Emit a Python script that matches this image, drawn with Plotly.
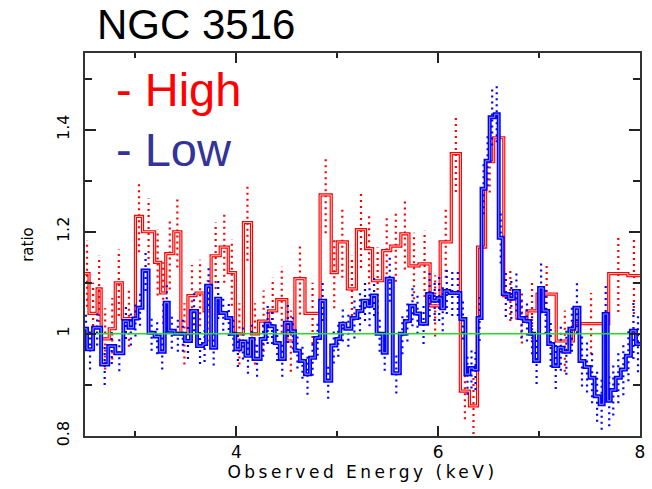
import plotly.graph_objects as go

# ---- data (energy bin edges in keV, ratio values, 1-sigma errors) ----
edges_high = [2.50, 2.54, 2.62, 2.66, 2.74, 2.80, 2.87, 3.00, 3.07, 3.19, 3.25, 3.30, 3.38, 3.45,
              3.52, 3.60, 3.68, 3.75, 3.84, 3.92, 3.99, 4.07, 4.15, 4.22, 4.32, 4.40, 4.50, 4.58,
              4.68, 4.83, 4.94, 5.00, 5.10, 5.19, 5.28, 5.35, 5.45, 5.53, 5.63, 5.71, 5.81, 5.92,
              6.02, 6.13, 6.22, 6.31, 6.39, 6.47, 6.55, 6.65, 6.78, 6.88, 6.98, 7.17, 7.34, 7.69,
              7.88, 8.00]
ratio_high = [1.118, 1.04, 1.088, 0.99, 1.01, 1.10, 1.03, 1.23, 1.20, 1.14,
              1.08, 1.157, 1.20, 1.0, 1.075, 1.08, 1.045, 1.153, 1.17, 1.12,
              1.0, 1.218, 1.0, 1.025, 1.045, 1.067, 0.986, 1.108, 1.04, 1.272,
              1.12, 1.18, 1.088, 1.204, 1.167, 1.104, 1.163, 1.172, 1.196, 1.133,
              1.137, 1.055, 1.18, 1.353, 0.888, 0.859, 1.17, 1.337, 1.384, 1.075,
              1.031, 1.045, 1.078, 0.986, 1.02, 1.118, 1.114]
err_high = [0.065, 0.06, 0.065, 0.06, 0.06, 0.065, 0.055, 0.07, 0.065, 0.065,
            0.06, 0.07, 0.07, 0.06, 0.06, 0.065, 0.06, 0.065, 0.07, 0.065,
            0.06, 0.075, 0.06, 0.06, 0.065, 0.065, 0.06, 0.07, 0.06, 0.075,
            0.07, 0.07, 0.065, 0.075, 0.07, 0.065, 0.07, 0.07, 0.07, 0.065,
            0.065, 0.06, 0.07, 0.075, 0.055, 0.055, 0.06, 0.06, 0.05, 0.05,
            0.05, 0.055, 0.055, 0.06, 0.06, 0.075, 0.075]

edges_low = [2.50, 2.52, 2.58, 2.66, 2.73, 2.80, 2.88, 2.93, 2.98, 3.02,
             3.07, 3.13, 3.19, 3.24, 3.29, 3.33, 3.39, 3.45, 3.49, 3.55,
             3.61, 3.67, 3.70, 3.75, 3.80, 3.84, 3.90, 3.95, 3.99, 4.04,
             4.09, 4.14, 4.17, 4.24, 4.29, 4.33, 4.38, 4.43, 4.48, 4.54,
             4.58, 4.63, 4.68, 4.73, 4.78, 4.83, 4.88, 4.94, 4.99, 5.03,
             5.08, 5.14, 5.20, 5.25, 5.30, 5.34, 5.39, 5.45, 5.49, 5.55,
             5.62, 5.67, 5.72, 5.77, 5.82, 5.89, 5.94, 5.99, 6.03, 6.06,
             6.11, 6.17, 6.22, 6.27, 6.31, 6.35, 6.39, 6.43, 6.47, 6.51,
             6.56, 6.60, 6.64, 6.70, 6.75, 6.80, 6.85, 6.91, 6.95, 7.00,
             7.04, 7.09, 7.14, 7.19, 7.24, 7.30, 7.35, 7.40, 7.45, 7.50,
             7.55, 7.60, 7.64, 7.68, 7.71, 7.76, 7.81, 7.86, 7.91, 7.96,
             8.00]
ratio_low = [1.01, 0.97, 1.012, 0.94, 0.976, 0.962, 1.025, 1.012, 1.03, 1.051,
             1.124, 1.002, 0.995, 0.965, 1.061, 1.006, 1.0, 1.0, 0.986, 1.045,
             0.976, 0.98, 1.094, 0.973, 1.069, 1.041, 1.031, 1.0, 0.97, 0.985,
             0.957, 0.99, 0.951, 0.99, 1.02, 1.015, 0.982, 0.951, 1.022, 1.005,
             0.967, 0.947, 0.921, 0.953, 0.992, 1.065, 0.908, 0.977, 0.99, 1.02,
             1.01, 1.031, 1.045, 1.065, 1.055, 1.075, 1.0, 0.963, 1.108, 0.923,
             1.0, 1.025, 1.055, 1.04, 1.02, 1.078, 1.065, 1.07, 1.05, 1.084,
             1.08, 1.08, 1.029, 0.921, 0.933, 0.93, 1.031, 1.284, 1.339, 1.424,
             1.43, 1.188, 1.078, 1.069, 1.084, 1.031, 1.025, 1.0, 0.947, 1.09,
             1.045, 0.98, 0.937, 0.973, 0.965, 1.01, 1.051, 0.947, 0.935, 0.914,
             0.878, 0.862, 1.039, 0.869, 0.89, 0.914, 0.93, 0.957, 1.006, 0.98]
err_low = [0.035, 0.04, 0.035, 0.04, 0.035, 0.035, 0.035, 0.035, 0.035, 0.035,
           0.04, 0.035, 0.035, 0.035, 0.04, 0.035, 0.035, 0.035, 0.035, 0.04,
           0.035, 0.035, 0.04, 0.035, 0.04, 0.035, 0.035, 0.035, 0.035, 0.035,
           0.035, 0.035, 0.035, 0.035, 0.04, 0.035, 0.035, 0.035, 0.04, 0.035,
           0.035, 0.035, 0.04, 0.035, 0.035, 0.04, 0.035, 0.035, 0.035, 0.035,
           0.035, 0.04, 0.04, 0.04, 0.04, 0.04, 0.035, 0.035, 0.045, 0.04,
           0.04, 0.04, 0.04, 0.04, 0.04, 0.045, 0.04, 0.045, 0.045, 0.045,
           0.045, 0.045, 0.04, 0.04, 0.04, 0.04, 0.045, 0.05, 0.05, 0.055,
           0.055, 0.05, 0.045, 0.04, 0.04, 0.04, 0.04, 0.04, 0.045, 0.05,
           0.045, 0.045, 0.045, 0.045, 0.045, 0.045, 0.05, 0.05, 0.05, 0.05,
           0.05, 0.05, 0.055, 0.05, 0.05, 0.05, 0.05, 0.05, 0.055, 0.055]

x_range = [2.5, 8.0]
y_range = [0.8, 1.55]
x_ticks = [4, 6, 8]
x_minor = [3, 5, 7]
y_ticks = [0.8, 1.0, 1.2, 1.4]
y_ticklabels = ["0.8", "1", "1.2", "1.4"]
y_minor = [0.9, 1.1, 1.3, 1.5]

RED = "#ff0000"
BLUE = "#0000ff"


def step_xy(edges, vals):
    return list(edges), list(vals) + [vals[-1]]


def err_xy(edges, vals, errs):
    xs, ys = [], []
    for i, (v, e) in enumerate(zip(vals, errs)):
        c = 0.5 * (edges[i] + edges[i + 1])
        xs += [c, c, None]
        ys += [v - e, v + e, None]
    return xs, ys


fig = go.Figure()

# error bars (dotted)
ex, ey = err_xy(edges_high, ratio_high, err_high)
fig.add_trace(go.Scatter(x=ex, y=ey, mode="lines", line=dict(color=RED, width=2.2, dash="2px,4px"),
                         hoverinfo="skip", showlegend=False))
sx, sy = step_xy(edges_high, ratio_high)
fig.add_trace(go.Scatter(x=sx, y=sy, mode="lines", line=dict(color=RED, width=3.2, shape="hv"),
                         name="High", showlegend=False))
fig.add_trace(go.Scatter(x=sx, y=sy, mode="lines", line=dict(color="#ffc8c8", width=1, shape="hv"),
                         hoverinfo="skip", showlegend=False))

ex, ey = err_xy(edges_low, ratio_low, err_low)
fig.add_trace(go.Scatter(x=ex, y=ey, mode="lines", line=dict(color=BLUE, width=2.2, dash="2px,4px"),
                         hoverinfo="skip", showlegend=False))
sx, sy = step_xy(edges_low, ratio_low)
fig.add_trace(go.Scatter(x=sx, y=sy, mode="lines", line=dict(color=BLUE, width=4, shape="hv"),
                         name="Low", showlegend=False))
fig.add_trace(go.Scatter(x=sx, y=sy, mode="lines", line=dict(color="#9090ff", width=1, shape="hv"),
                         hoverinfo="skip", showlegend=False))

# unity line
fig.add_trace(go.Scatter(x=x_range, y=[1.0, 1.0], mode="lines", line=dict(color="#22dd22", width=1.5),
                         hoverinfo="skip", showlegend=False))

axis_common = dict(showline=True, linecolor="#333333", linewidth=2, mirror="ticks",
                   ticks="inside", tickcolor="#222222", tickwidth=2, showgrid=False, zeroline=False)

fig.update_xaxes(range=x_range, tickvals=x_ticks, ticklen=10,
                 minor=dict(tickvals=x_minor, ticklen=5, ticks="inside", tickcolor="#222222", tickwidth=2),
                 tickfont=dict(family="DejaVu Sans", size=17, color="black"),
                 title=dict(text="Observed Energy (keV)", standoff=4,
                            font=dict(family="DejaVu Sans", size=17, color="black")),
                 **axis_common)
fig.update_yaxes(range=y_range, tickvals=y_ticks, ticktext=y_ticklabels, ticklen=11, tickangle=-90,
                 ticklabelstandoff=8,
                 minor=dict(tickvals=y_minor, ticklen=7, ticks="inside", tickcolor="#222222", tickwidth=2),
                 tickfont=dict(family="DejaVu Sans", size=16, color="black"),
                 title=dict(text="ratio", standoff=16,
                            font=dict(family="DejaVu Sans", size=15, color="black")),
                 **axis_common)

fig.add_annotation(text="NGC 3516", xref="paper", yref="paper", x=0.018, y=1.075,
                   xanchor="left", yanchor="middle", showarrow=False,
                   font=dict(family="Liberation Sans", size=42, color="black"))
fig.add_annotation(text="- High", xref="paper", yref="paper", x=0.052, y=0.905,
                   xanchor="left", yanchor="middle", showarrow=False,
                   font=dict(family="Liberation Sans", size=47, color="#ff0000"))
fig.add_annotation(text="- Low", xref="paper", yref="paper", x=0.052, y=0.748,
                   xanchor="left", yanchor="middle", showarrow=False,
                   font=dict(family="Liberation Sans", size=47, color="#333399"))

fig.update_layout(width=652, height=489, margin=dict(l=85, r=7, t=53, b=53),
                  paper_bgcolor="white", plot_bgcolor="white", showlegend=False)

post = ("var s=document.createElement('style');"
        "s.textContent='.xtitle{letter-spacing:3.5px}';document.head.appendChild(s);")
fig.write_html("out.html", post_script=post)
